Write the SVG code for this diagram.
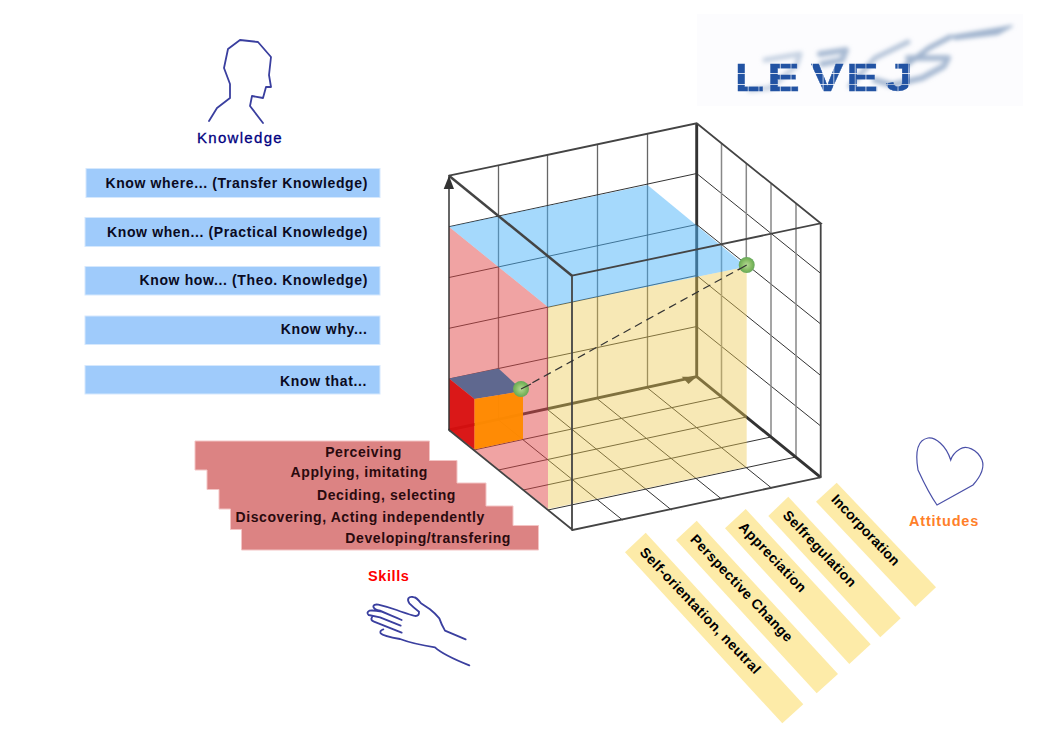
<svg xmlns="http://www.w3.org/2000/svg" width="1053" height="745" viewBox="0 0 1053 745">
<style>
text{font-family:"Liberation Sans",Arial,sans-serif;font-weight:bold}
.kb{fill:#9fcbfb;stroke:#d5e8fd;stroke-width:1}
.kt{font-size:14px;fill:#0a0a22;text-anchor:end;letter-spacing:.63px}
.st{font-size:14px;fill:#2a0a0e;text-anchor:end;letter-spacing:.6px}
.ab{fill:#fdeba8}
.at{font-size:14px;fill:#000;letter-spacing:.45px}
.draw{fill:none;stroke:#3a3f9f;stroke-width:1.8;stroke-linejoin:round;stroke-linecap:round}
.g{fill:none;stroke:#333;stroke-width:1}
.v{fill:none;stroke:#666;stroke-width:1.300}
.e{fill:none;stroke:#444;stroke-width:1.800;stroke-linecap:round}
.ball{fill:url(#ball)}
</style>
<defs>
<radialGradient id="ball" cx=".5" cy=".5" r=".5"><stop offset="0" stop-color="#b5d894"/><stop offset=".7" stop-color="#7fb85e"/><stop offset="1" stop-color="#65a85a"/></radialGradient>
<filter id="blur" x="-20%" y="-50%" width="140%" height="200%"><feGaussianBlur stdDeviation="2.2"/></filter>
<pattern id="px" width="10.7" height="11" patternUnits="userSpaceOnUse" x="738" y="63"><rect width="10" height="10.2" fill="#fff"/></pattern>
<mask id="pxm" maskUnits="userSpaceOnUse" x="730" y="55" width="200" height="45"><rect x="730" y="55" width="200" height="45" fill="url(#px)"/></mask>
</defs>

<g id="logo">
<rect x="697" y="14" width="326" height="92" fill="#fcfcfe"/>
<g filter="url(#blur)" fill="none" stroke="#a0b4ce" stroke-linecap="round" stroke-linejoin="round">
<path d="M952 36L1012 26L998 34L955 39Z" fill="#a0b4ce" stroke-width="2"/>
<path d="M950 37L929 48L905 66" stroke-width="5"/>
<path d="M908 58H948L944 66L922 78L892 85L875 80" stroke-width="6" stroke-opacity=".9"/>
<path d="M908 42L875 58L850 86" stroke-width="5" stroke-opacity=".8"/>
<path d="M820 54L846 50L842 60L822 64" stroke-width="6" stroke-opacity=".9"/>
<path d="M765 60L800 54L796 66L770 88L750 90" stroke-width="5" stroke-opacity=".6"/>
</g>
<g mask="url(#pxm)"><text transform="translate(738 91) scale(1.25 1)" x="-3 23.400 58.400 86.600 118" y="0" style="font-size:39px" fill="#2253a3" stroke="#2253a3" stroke-width=".4">LEVEJ</text></g>
</g>

<g id="node-knowledge">
<path class="draw" d="M209 121L217 108L230 98L230 84L224 68L228 49L240 40L258 42L271 57L269 75L271 87L266 87L263 98L252 96L250 106L263 123"/>
<text x="197" y="143" style="font-size:15px;font-weight:normal;letter-spacing:1.300px" fill="#00007f" stroke="#00007f" stroke-width=".3">Knowledge</text>
</g>

<g id="know-where"><rect class="kb" x="86" y="168.500" width="294" height="29"/><text class="kt" x="368" y="188">Know where... (Transfer Knowledge)</text></g>
<g id="know-when"><rect class="kb" x="85" y="217.500" width="295" height="29"/><text class="kt" x="368" y="237">Know when... (Practical Knowledge)</text></g>
<g id="know-how"><rect class="kb" x="85" y="266.500" width="295" height="28.500"/><text class="kt" x="368" y="285">Know how... (Theo. Knowledge)</text></g>
<g id="know-why"><rect class="kb" x="85" y="316" width="295" height="28.500"/><text class="kt" x="367.500" y="334">Know why...</text></g>
<g id="know-that"><rect class="kb" x="85" y="365.500" width="295" height="28.500"/><text class="kt" x="367" y="386">Know that...</text></g>

<g id="skills-steps">
<path d="M195 441H429.500V460.500H457V483H486V506H513V525.500H538.500V550H241.500V529.500H230.500V509H219V489.500H207V470H195Z" fill="#dc8383" stroke="#f3c4c4" stroke-width="1"/>
<text class="st" x="402" y="457">Perceiving</text>
<text class="st" x="428" y="477">Applying, imitating</text>
<text class="st" x="456" y="500">Deciding, selecting</text>
<text class="st" x="485" y="522">Discovering, Acting independently</text>
<text class="st" x="511" y="543">Developing/transfering</text>
</g>
<g id="node-skills">
<text x="368" y="581" style="font-size:14.500px;letter-spacing:.6px" fill="#f00">Skills</text>
<g transform="translate(350 560) scale(.3333)">
<path class="draw" style="stroke-width:5.500" d="M347 238L285 212Q275 195 268 175Q255 160 240 148Q225 138 213 130Q200 112 190 111C175 108 170 118 178 130Q190 142 207 155Q208 168 197 168Q190 168 140 150Q110 140 85 134Q70 132 70 140Q72 148 90 152L155 180Q120 165 95 155Q70 150 58 152Q48 158 56 165L90 172L152 197M66 172Q60 180 72 185L155 218M100 208Q88 212 92 220Q100 228 150 237Q190 252 255 262Q280 285 358 316"/>
</g>
</g>

<g id="cube">
<g id="back-grid">
<path class="v" d="M498.500 165.500V420M547.500 155V409.500M597.500 144.500V399M647.500 134V388"/>
<path class="g" d="M449 226.700L696.700 173.500M449 277.500L696.700 224.500M449 328.300L696.700 275.500M449 379L696.700 326.500"/>
<path class="g" d="M696.700 173.500L820.700 273.400M696.700 224.500L820.700 324M696.700 275.500L820.700 375.500M696.700 326.500L820.700 426"/>
<path class="v" style="stroke:#888;stroke-width:1.500" d="M721.500 143.500V397M746.300 163.500V258M771 183.500V437M796 203.500V457"/>
<path class="g" d="M473.800 450L721.500 397M498.500 470L746.300 417M523.300 490L771 437M548 510L796 457"/>
<path class="g" d="M498.500 420L622.500 520M547.500 409.500L671.500 510M597.500 399L721.500 499M647.500 388L771.500 488"/>
</g>
<path id="axes-back" d="M449 430L696.700 376.700M696.700 376.700L820.700 477.300M696.700 123.300V376.700" fill="none" stroke="#333" stroke-width="2.900"/>
<path d="M681.700 376.700L696.700 376.700L688.500 384Z" fill="#333"/>
<path d="M449 226.700L548 307L548 509L449 430Z" fill="#e14747" fill-opacity=".5"/>
<path d="M449 226.700L647.500 185L746.700 266.700L548 307Z" fill="#4bb3f9" fill-opacity=".5"/>
<path d="M548 307L746.700 266.700V467L548 509Z" fill="#ecc94f" fill-opacity=".42"/>
<g id="small-cube">
<path d="M449 378.500L498.500 368.500L523 391L474.500 399Z" fill="#5f688f"/>
<path d="M449 378.500L474.500 399V449.500L449 430Z" fill="#d80c0c" fill-opacity=".92"/>
<path d="M474.500 399L523 391V439L474.500 449.500Z" fill="#ff8a00" fill-opacity=".97"/>
</g>
<path id="edge-top" class="e" d="M449 175.700L696.700 123.300L820.700 223.300L572 275.700M449 430L572.700 530L820.700 477.300V223.300M572 275.700V530"/>
<path d="M449 175.700L572 275.700" fill="none" stroke="#444" stroke-width="2.500"/>
<path d="M449 177V430" stroke="#333" stroke-width="1.500" fill="none"/>
<path d="M449 175.700L454 189H443.700Z" fill="#333"/>
<path id="trace" d="M521 389L746.700 265" fill="none" stroke="#333" stroke-width="1.200" stroke-dasharray="8 5"/>
<circle class="ball" cx="521" cy="389" r="8"/>
<circle class="ball" cx="746.700" cy="265" r="8"/>
<path d="M521 389L531 384M738 270L746.700 265" fill="none" stroke="#333" stroke-width="1.200"/>
</g>

<g id="attitude-bars">
<g id="self-orientation"><path class="ab" d="M645.700 532.700L803.300 704.300L782.300 723.300L625 552.300Z"/><text class="at" transform="translate(639 553) rotate(46.500)">Self-orientation, neutral</text></g>
<g id="perspective"><path class="ab" d="M696.700 520.700L838 674L816.700 693.300L676 540Z"/><text class="at" transform="translate(689.500 540) rotate(46.500)">Perspective Change</text></g>
<g id="appreciation"><path class="ab" d="M745.700 509L870.700 644.300L849.300 664L725 528.300Z"/><text class="at" transform="translate(738 527.500) rotate(46.500)">Appreciation</text></g>
<g id="selfregulation"><path class="ab" d="M788.300 496.700L900.700 618.300L880.300 637.300L768.300 516Z"/><text class="at" transform="translate(782 516) rotate(46.500)">Selfregulation</text></g>
<g id="incorporation"><path class="ab" d="M836.700 482.700L936 587.300L915.300 606.700L816 501.700Z"/><text class="at" style="letter-spacing:.15px" transform="translate(830.500 500) rotate(46.500)">Incorporation</text></g>
</g>

<g id="node-attitudes">
<path d="M950.700 460C946 445 935 437 928 438C917 440 915 452 918 470C924 483 930 495 937 505L973 485C981 476 985 468 982 460C977 449 966 445 960 449C955 452 952 456 950.700 460Z" fill="none" stroke="#4a50a8" stroke-width="1.200"/>
<text x="909" y="526" style="font-size:14.500px;letter-spacing:.8px" fill="#ff7f2a">Attitudes</text>
</g>
</svg>
